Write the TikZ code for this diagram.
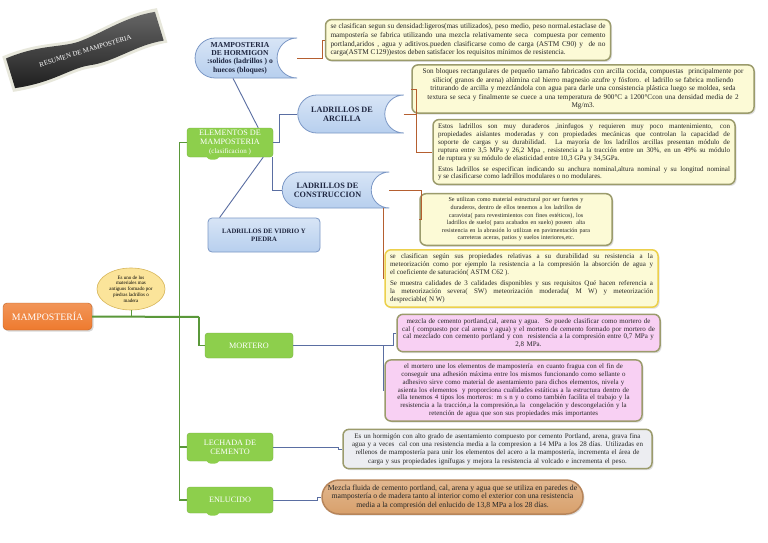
\documentclass[tikz,border=0pt]{standalone}
\usepackage{fontspec}
\setmainfont{Liberation Serif}
\usepackage{tikz}
\usetikzlibrary{shapes.misc,shapes.geometric,shadows}

\definecolor{bluefill}{HTML}{B7CFEE}
\definecolor{blueedge}{HTML}{7C98C6}
\definecolor{navytext}{HTML}{1E2640}
\definecolor{greenfill}{HTML}{8DCF4C}
\definecolor{orangefill}{HTML}{EE7A2E}
\definecolor{creamfill}{HTML}{FCFAD6}
\definecolor{olivedge}{HTML}{9B9B6C}
\definecolor{goldedge}{HTML}{ECD04C}
\definecolor{pinkfill}{HTML}{F8D0F3}
\definecolor{grayfill}{HTML}{ECEDF1}
\definecolor{woodfill}{HTML}{D8A06B}
\definecolor{woodedge}{HTML}{B7855A}
\definecolor{linkblue}{HTML}{5A6EA2}
\definecolor{linkbrown}{HTML}{B55F30}
\definecolor{trunkgreen}{HTML}{5A983A}
\definecolor{notefill}{HTML}{FBE49A}
\definecolor{noteedge}{HTML}{D7B65A}

\begin{document}
\begin{tikzpicture}[x=1pt,y=-1pt,
  txt/.style={font=\fontsize{7}{8.3}\selectfont,text=black!85,inner xsep=5pt,inner ysep=4pt},
  notebox/.style={txt,draw=olivedge,line width=1.5pt,fill=creamfill,rounded corners=6pt,
    drop shadow={opacity=.25,shadow xshift=1.5pt,shadow yshift=-1.5pt}},
  pinkbox/.style={notebox,fill=pinkfill},
  graybox/.style={notebox,fill=grayfill},
  bluecurve/.style={rounded rectangle,rounded rectangle right arc=concave,draw=blueedge,line width=.8pt,
    top color=bluefill!55,bottom color=bluefill,text=navytext,align=center,inner sep=2pt,
    font=\bfseries\fontsize{7.6}{8.4}\selectfont},
  greenbox/.style={rounded corners=3pt,fill=greenfill,draw=greenfill!85!black,line width=.4pt,
    text=white,align=center,inner sep=2pt,font=\fontsize{8.2}{8.8}\selectfont},
  link/.style={draw=linkblue,line width=.9pt},
  brownlink/.style={draw=linkbrown,line width=.8pt},
  trunk/.style={draw=trunkgreen,line width=1.2pt}]
  \useasboundingbox[fill=white] (0,0) rectangle (768,543);

  \begin{scope}[shift={(85,50)},rotate=17]
    \fill[olivedge!40,opacity=.6] (-81,-18) .. controls (-40,-22) and (-20,-11) .. (0,-13) .. controls (25,-15) and (50,-23) .. (81,-19)
      -- (81,17) .. controls (50,13) and (25,23) .. (0,19) .. controls (-20,16) and (-40,25) .. (-81,19) -- cycle;
    \shade[top color=black!60,bottom color=black!88] (-78,-15) .. controls (-40,-19) and (-20,-8) .. (0,-10) .. controls (25,-12) and (50,-20) .. (78,-16)
      -- (78,14) .. controls (50,10) and (25,20) .. (0,16) .. controls (-20,13) and (-40,22) .. (-78,16) -- cycle;
    \node[text=white,font=\fontsize{6.9}{7.5}\selectfont,rotate=17] (titulo) at (0,1) {RESUMEN DE MAMPOSTERIA};
  \end{scope}

  \node[rounded corners=4pt,top color=orangefill!80,bottom color=orangefill,draw=orangefill!80!black,line width=.4pt,
    text=white,font=\fontsize{9.8}{11}\selectfont,minimum width=89pt,minimum height=27pt,
    drop shadow={opacity=.3,shadow xshift=1.5pt,shadow yshift=-1.5pt}] (root) at (47.5,316.5) {MAMPOSTERÍA};
  \node[ellipse,draw=noteedge,line width=.6pt,fill=notefill,minimum width=68pt,minimum height=42pt,inner sep=0pt,
    align=center,font=\fontsize{5}{5.8}\selectfont] (nota) at (131,289)
    {Es uno de los\\materiales mas\\antiguos formado por\\piedras ladrillos o\\madera};

  \node[bluecurve,minimum width=106pt,minimum height=40pt] (horm) at (240,58)
    {MAMPOSTERIA\\DE HORMIGON\\:solidos (ladrillos ) o\\huecos (bloques)};
  \node[greenbox,minimum width=86pt,minimum height=29pt] (elem) at (230,142.5)
    {ELEMENTOS DE\\MAMPOSTERIA\\{\fontsize{7}{7.6}\selectfont(clasificacion )}};
  \node[bluecurve,minimum width=110pt,minimum height=38pt,font=\bfseries\fontsize{8.2}{9}\selectfont] (arc) at (342,114)
    {LADRILLOS DE\\ARCILLA};
  \node[bluecurve,minimum width=111pt,minimum height=36pt,font=\bfseries\fontsize{8.2}{9}\selectfont] (constr) at (327.5,190)
    {LADRILLOS DE\\CONSTRUCCION};
  \node[rounded corners=4pt,draw=blueedge,line width=.8pt,top color=bluefill!55,bottom color=bluefill,text=navytext,
    align=center,font=\bfseries\fontsize{6.7}{8}\selectfont,minimum width=112pt,minimum height=34pt] (vid) at (264,235)
    {LADRILLOS DE VIDRIO Y\\PIEDRA};
  \node[greenbox,minimum width=88pt,minimum height=25pt] (mort) at (249,345.5) {MORTERO};
  \node[greenbox,minimum width=86pt,minimum height=28pt] (lech) at (230,447) {LECHADA DE\\CEMENTO};
  \node[greenbox,minimum width=86pt,minimum height=26pt] (enluc) at (230,500) {ENLUCIDO};
  \fill[greenfill] ([xshift=26pt]elem.south west) ellipse (6 and 2.5);
  \fill[greenfill] ([xshift=26pt]lech.south west) ellipse (6 and 2.5);
  \fill[greenfill] ([xshift=26pt]enluc.south west) ellipse (6 and 2.5);

  \node[notebox,text width=275pt,align=justify,font=\fontsize{7.3}{8.7}\selectfont] (clasif) at (468,40)
    {se clasifican segun su densidad:ligeros(mas utilizados), peso medio, peso normal.estaclase de\linebreak
     mampostería se fabrica utilizando una mezcla relativamente seca \ compuesta por cemento\linebreak
     portland,aridos , agua y aditivos.pueden clasificarse como de carga (ASTM C90) y \ de no\linebreak
     carga(ASTM C129))estos deben satisfacer los requisitos mínimos de resistencia.};
  \node[notebox,text width=332pt,align=center,font=\fontsize{7.2}{8.4}\selectfont] (bloques) at (583,89)
    {Son bloques rectangulares de pequeño tamaño fabricados con arcilla cocida, compuestas \ principalmente por\\
     silicio( granos de arena) alúmina cal hierro magnesio azufre y fósforo. el ladrillo se fabrica moliendo\\
     triturando de arcilla y mezclándola con agua para darle una consistencia plástica luego se moldea, seda\\
     textura se seca y finalmente se cuece a una temperatura de 900°C a 1200°Ccon una densidad media de 2\\
     Mg/m3.};
  \node[notebox,text width=292pt,align=justify,font=\fontsize{7}{7.9}\selectfont] (estas) at (584,152)
    {Estos ladrillos son muy duraderos ,ininfugos y requieren muy poco mantenimiento, con\linebreak
     propiedades aislantes moderadas y con propiedades mecánicas que controlan la capacidad de\linebreak
     soporte de cargas y su durabilidad. La mayoría de los ladrillos arcillas presentan módulo de\linebreak
     ruptura entre 3,5 MPa y 26,2 Mpa , resistencia a la tracción entre un 30\%, en un 49\% su módulo\linebreak
     de ruptura y su módulo de elasticidad entre 10,3 GPa y 34,5GPa.\\[3pt]
     Estos ladrillos se especifican indicando su anchura nominal,altura nominal y su longitud nominal\linebreak
     y se clasificarse como ladrillos modulares o no modulares.};
  \node[notebox,text width=182pt,align=center,font=\fontsize{6.1}{7.6}\selectfont] (util) at (516,219.5)
    {Se utilizan como material estructural por ser fuertes y\\
     duraderos, dentro de ellos tenemos a los ladrillos de\\
     caravista( para revestimientos con fines estéticos), los\\
     ladrillos de suelo( para acabados en suelo) poseen \ alta\\
     resistencia en la abrasión lo utilizan en pavimentación para\\
     carreteras aceras, patios y suelos interiores,etc.};
  \node[notebox,draw=goldedge,text width=263pt,align=justify,font=\fontsize{7}{8}\selectfont] (durab) at (521.5,278.5)
    {se clasifican según sus propiedades relativas a su durabilidad su resistencia a la\linebreak
     meteorización como por ejemplo la resistencia a la compresión la absorción de agua y\linebreak
     el coeficiente de saturación( ASTM C62 ).\\[3pt]
     Se muestra calidades de 3 calidades disponibles y sus requisitos Qué hacen referencia a\linebreak
     la meteorización severa( SW) meteorización moderada( M W) y meteorización\linebreak
     despreciable( N W)};
  \node[pinkbox,text width=253pt,align=center,font=\fontsize{7}{7.8}\selectfont] (mezcla) at (528.5,333)
    {mezcla de cemento portland,cal, arena y agua. \ Se puede clasificar como mortero de\\
     cal ( compuesto por cal arena y agua) y el mortero de cemento formado por mortero de\\
     cal mezclado con cemento portland y con \ resistencia a la compresión entre 0,7 MPa y\\
     2,8 MPa.};
  \node[pinkbox,text width=247pt,align=center,font=\fontsize{6.9}{7.8}\selectfont] (une) at (513.5,390.5)
    {el mortero une los elementos de mampostería \ en cuanto fragua con el fin de\\
     conseguir una adhesión máxima entre los mismos funcionando como sellante o\\
     adhesivo sirve como material de asentamiento para dichos elementos, nivela y\\
     asienta los elementos \ y proporciona cualidades estáticas a la estructura dentro de\\
     ella tenemos 4 tipos los morteros: m s n y o como también facilita el trabajo y la\\
     resistencia a la tracción,a la compresión,a la \ congelación y descongelación y la\\
     retención de agua que son sus propiedades más importantes};
  \node[graybox,text width=299pt,align=center] (lechtxt) at (497.5,449)
    {Es un hormigón con alto grado de asentamiento compuesto por cemento Portland, arena, grava fina\\
     agua y a veces \ cal con una resistencia media a la compresion a 14 MPa a los 28 días. Utilizadas en\\
     rellenos de mampostería para unir los elementos del acero a la mampostería, incrementa el área de\\
     carga y sus propiedades ignífugas y mejora la resistencia al volcado e incrementa el peso.};
  \node[rounded rectangle,txt,draw=woodedge,line width=1.5pt,top color=woodfill!75,bottom color=woodfill,
    align=center,minimum width=265pt,minimum height=34pt,inner xsep=2pt,inner ysep=2pt,
    font=\fontsize{7.7}{8.6}\selectfont,
    drop shadow={opacity=.25,shadow xshift=1.5pt,shadow yshift=-1.5pt}] (enltxt) at (452.5,497)
    {Mezcla fluida de cemento portland, cal, arena y agua que se utiliza en paredes de\\
     mampostería o de madera tanto al interior como el exterior con una resistencia\\
     media a la compresión del enlucido de 13,8 MPa a los 28 días.};

  \draw[trunk,line width=2pt] (root.east) -- (199,317);
  \draw[trunk] (elem.west) -- ++(-7,0) |- (enluc.west);
  \draw[trunk] (lech.west) -- ++(-7,0);
  \draw[trunk] (199,317) |- (mort.west);
  \draw[trunk,line width=.8pt] (nota.south) -- (nota.south |- root.east);

  \draw[brownlink] (horm.east) -- ++(25,0) |- (clasif.west);
  \draw[link] ([xshift=18pt]horm.south west) -- ([xshift=-15pt]elem.north east);
  \draw[link] (elem.east) -- ++(6,0) |- (arc.west);
  \draw[link] ([xshift=-1pt]elem.south east) |- (constr.west);
  \draw[link] ([xshift=-10pt]elem.south east) -- ([xshift=12pt]vid.north west);
  \draw[brownlink] (arc.east) -- ++(13,0) |- (bloques.west);
  \draw[brownlink] (arc.east) -- ++(13,0) |- (estas.west);
  \draw[brownlink] (constr.east) -- ++(32,0) |- (util.west);
  \draw[brownlink] ([xshift=-6pt]constr.south east) |- (durab.west);
  \draw[link] (mort.east) -- ++(90,0) |- (une.west);
  \draw[link] (mort.east) -- ++(100,0) |- (mezcla.west);
  \draw[link] (lech.east) -- ++(65,0) |- (lechtxt.west);
  \draw[link] (enluc.east) -- ++(44,0) |- (enltxt.west);
\end{tikzpicture}
\end{document}
